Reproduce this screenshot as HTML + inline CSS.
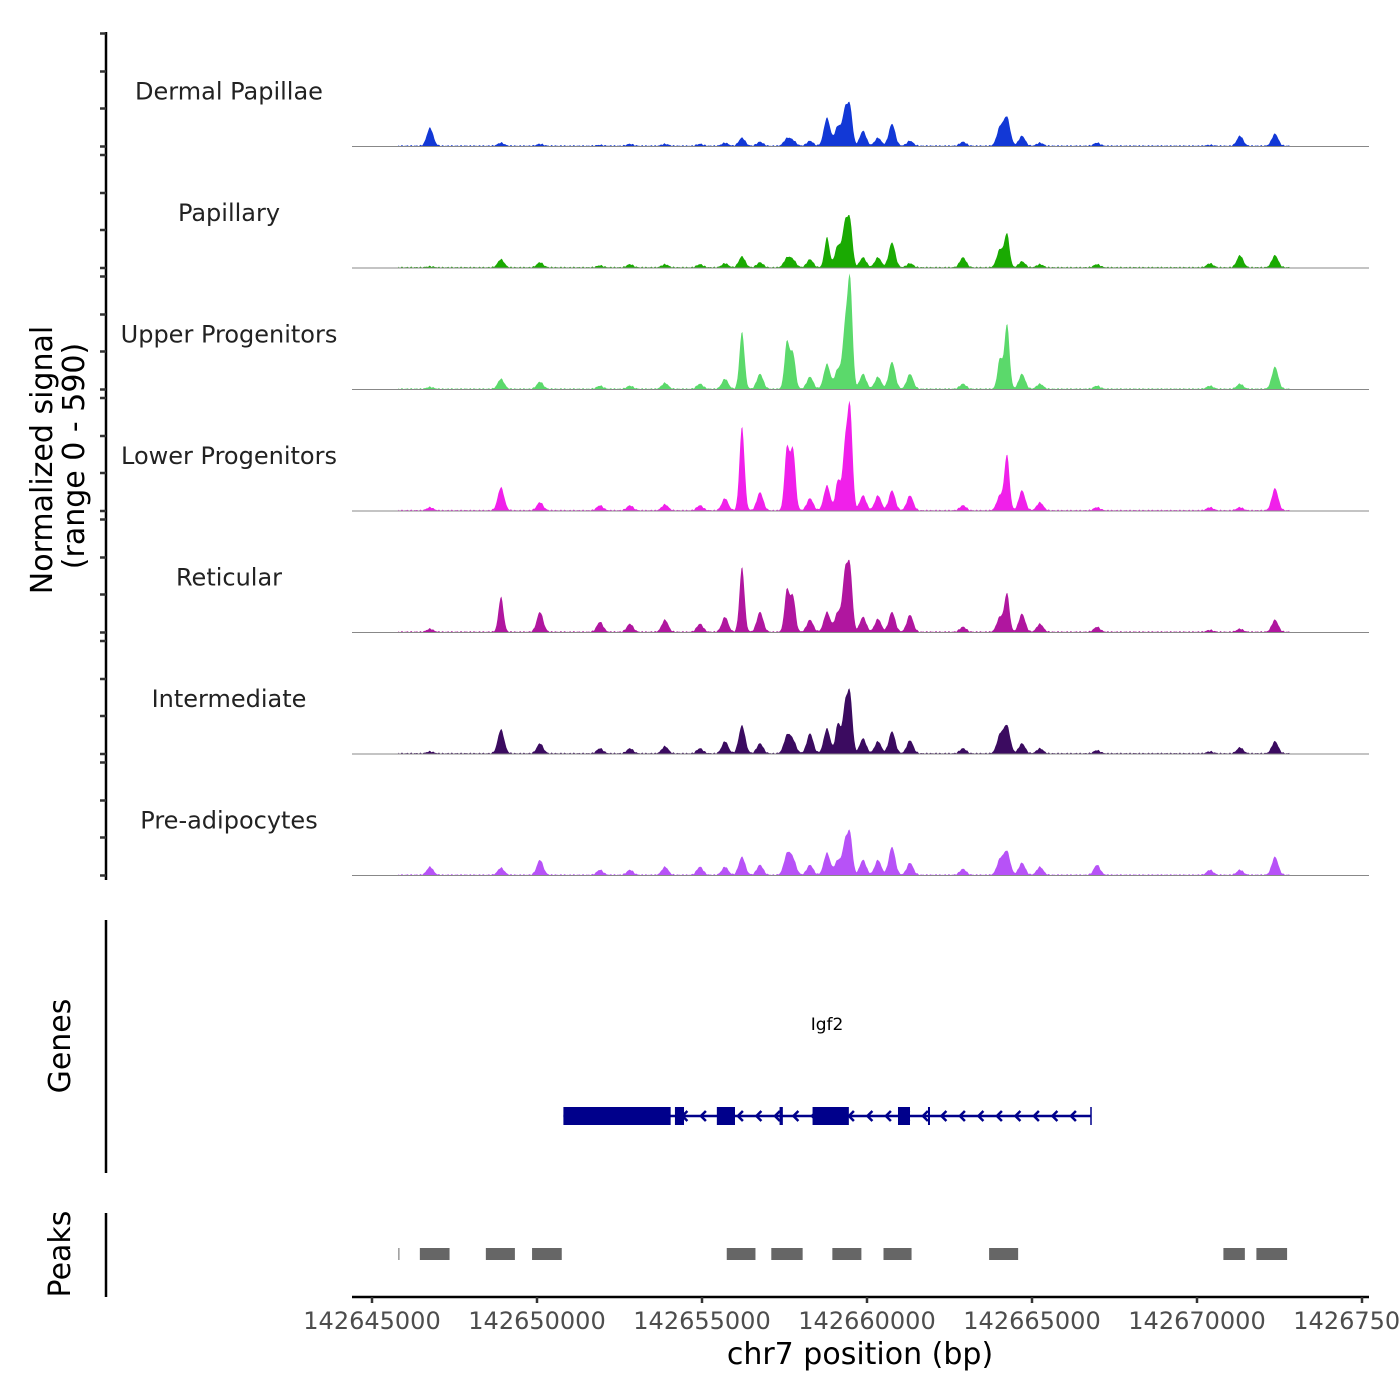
<!DOCTYPE html>
<html><head><meta charset="utf-8">
<style>
html,body{margin:0;padding:0;background:#fff;}
svg{display:block;font-family:"DejaVu Sans","Liberation Sans",sans-serif;}
</style></head>
<body>
<svg id="chart" width="1400" height="1400" viewBox="0 0 1400 1400" xmlns="http://www.w3.org/2000/svg">
<g id="tracks"></g>
<g id="axes"></g>
<g id="genes"></g>
<g id="peaks"></g>
<text transform="translate(52,460) rotate(-90)" text-anchor="middle" font-size="30" fill="#000">Normalized signal</text>
<text transform="translate(84,456) rotate(-90)" text-anchor="middle" font-size="30" fill="#000">(range 0 - 590)</text>
<text transform="translate(70,1046) rotate(-90)" text-anchor="middle" font-size="30" fill="#000">Genes</text>
<text transform="translate(70,1254) rotate(-90)" text-anchor="middle" font-size="30" fill="#000">Peaks</text>
<text x="860" y="1364" text-anchor="middle" font-size="30" fill="#000">chr7 position (bp)</text>
</svg>
<script>
// ---- data ----
const groups = ["Dermal Papillae","Papillary","Upper Progenitors","Lower Progenitors","Reticular","Intermediate","Pre-adipocytes"];
const colors = ["#1238d6","#1aaa02","#5bd96b","#f020ea","#b0169f","#3b0b60","#b752f7"];
const peakCenters = [142646758,142648909,142650091,142651909,142652818,142653879,142654939,142655697,142656212,142656758,142657576,142657758,142658273,142658788,142659121,142659333,142659485,142659879,142660333,142660758,142661303,142662909,142664030,142664242,142664697,142665242,142666970,142670394,142671303,142672364];
// heights in signal units (0-590 shared range)
const sigDP  = [94,16,10,5,10,10,10,16,42,21,37,26,26,146,104,172,198,78,42,115,26,21,94,146,52,16,16,5,52,63];
const sigPap = [5,42,26,10,16,16,16,21,57,26,47,37,42,157,115,209,235,52,52,130,21,52,94,172,31,16,16,21,63,63];
const sigUP  = [10,52,37,16,16,31,26,52,298,78,245,183,63,130,104,287,558,78,63,141,78,26,157,339,78,26,16,16,26,115];
const sigLP  = [16,120,42,26,26,31,26,63,438,94,324,313,63,130,157,313,522,78,78,104,78,26,78,287,104,42,16,16,16,115];
const sigRet = [16,183,104,52,42,63,42,78,339,104,219,183,63,104,104,287,324,78,68,104,89,26,78,198,94,42,26,10,16,63];
const sigInt = [10,125,52,26,26,37,26,63,146,52,89,63,104,130,157,235,298,78,63,115,68,26,94,141,52,26,16,10,31,63];
const sigPre = [42,37,78,26,26,42,42,42,94,52,104,78,52,115,78,157,209,78,78,146,63,31,78,120,63,42,52,26,26,94];
const signals = [sigDP,sigPap,sigUP,sigLP,sigRet,sigInt,sigPre];
const xTicks = [142645000,142650000,142655000,142660000,142665000,142670000,142675000];
const peakStarts = [142645800,142646450,142648450,142649850,142655750,142657100,142658950,142660500,142663700,142670800,142671800];
const peakEnds   = [142645810,142647350,142649330,142650750,142656620,142658050,142659830,142661350,142664580,142671450,142672730];
const exonStarts = [142650800,142654180,142655450,142657350,142658350,142660939,142661848];
const exonEnds   = [142654050,142654455,142656000,142657450,142659450,142661303,142661880];
const geneStart = 142650800, geneEnd = 142666788;
// ---- scales ----
const NS="http://www.w3.org/2000/svg";
const X0=142645000, PX0=372, K=0.033;
const xs = g => PX0 + (g - X0)*K;
const trackH = 121.5, base0 = 146.5, ampMax = 113, range = 590;
const ys = (v,i) => base0 + i*trackH - v/range*ampMax;
function mk(tag, attrs, parent){const e=document.createElementNS(NS,tag);for(const k in attrs)e.setAttribute(k,attrs[k]);parent.appendChild(e);return e;}
const tracks=document.getElementById('tracks');
const dataStart=142645800, dataEnd=142672800;
groups.forEach((g,i)=>{
  const grp=mk('g',{},tracks);
  
  
  const base=base0+i*trackH;
  let d='M'+xs(dataStart)+','+base;
  for(let px=xs(dataStart);px<=xs(dataEnd);px+=1){
    let v=0;
    peakCenters.forEach((c,j)=>{const dd=(px-xs(c));const w=signals[i][j]>150?3.5:4.5;v+=signals[i][j]*Math.exp(-(dd*dd)/(w*w));});
    v += 4*(1+Math.sin(px*1.7)*Math.sin(px*0.31));
    d+=' L'+px+','+ys(v,i).toFixed(2);
  }
  d+=' L'+xs(dataEnd)+','+base+' Z';
  const area=mk('path',{d:d,fill:colors[i]},grp);
  
  
  const bl=mk('line',{x1:352,x2:1369,y1:base,y2:base,stroke:'#888','stroke-width':1},grp);
  
  
  const lab=mk('text',{x:229,y:base-47,'text-anchor':'middle','font-size':24,fill:'#222'},grp);
  
  
  lab.textContent=g;
});
// axes
const ax=document.getElementById('axes');
const yl=mk('line',{x1:106,x2:106,y1:32,y2:880,stroke:'#000','stroke-width':2.5},ax);


for(let i=0;i<7;i++){const b=base0+i*trackH;[b-113,b-75,b-38,b].forEach(y=>{const t=mk('line',{x1:100,x2:106,y1:y,y2:y,stroke:'#333','stroke-width':2.5},ax);});}
const gl=mk('line',{x1:106,x2:106,y1:920,y2:1173,stroke:'#000','stroke-width':2.5},ax);


const pl=mk('line',{x1:106,x2:106,y1:1213,y2:1297,stroke:'#000','stroke-width':2.5},ax);


const xl=mk('line',{x1:352,x2:1369,y1:1297,y2:1297,stroke:'#000','stroke-width':2.5},ax);


xTicks.forEach(t=>{
  const tk=mk('line',{x1:xs(t),x2:xs(t),y1:1297,y2:1303,stroke:'#333','stroke-width':2.5},ax);
  
  
  const lb=mk('text',{x:xs(t),y:1329,'text-anchor':'middle','font-size':24,fill:'#4d4d4d'},ax);
  
  
  lb.textContent=t;
});
// genes
const ge=document.getElementById('genes');
const gy=1116;
const gline=mk('line',{x1:xs(geneStart),x2:xs(geneEnd),y1:gy,y2:gy,stroke:'#00008b','stroke-width':2.5},ge);


const gend=mk('line',{x1:xs(geneEnd),x2:xs(geneEnd),y1:gy-9,y2:gy+9,stroke:'#00008b','stroke-width':1.5},ge);


for(let px=xs(geneStart)+120;px<xs(geneEnd)-3;px+=18.5){
  const ch=mk('path',{d:`M${px+4},${gy-5} L${px-1},${gy} L${px+4},${gy+5}`,fill:'none',stroke:'#00008b','stroke-width':2.5},ge);
  
  
}
exonStarts.forEach((s,j)=>{
  const r=mk('rect',{x:xs(s),y:gy-9,width:Math.max(2,xs(exonEnds[j])-xs(s)),height:18,fill:'#00008b'},ge);
  
  
});
const gt=mk('text',{x:827,y:1030,'text-anchor':'middle','font-size':17,fill:'#000'},ge);


gt.textContent='Igf2';
// peaks
const pk=document.getElementById('peaks');
peakStarts.forEach((s,j)=>{
  const r=mk('rect',{x:xs(s),y:1248,width:Math.max(1,xs(peakEnds[j])-xs(s)),height:12,fill:'#666'},pk);
  
  
});
</script>
</body></html>
